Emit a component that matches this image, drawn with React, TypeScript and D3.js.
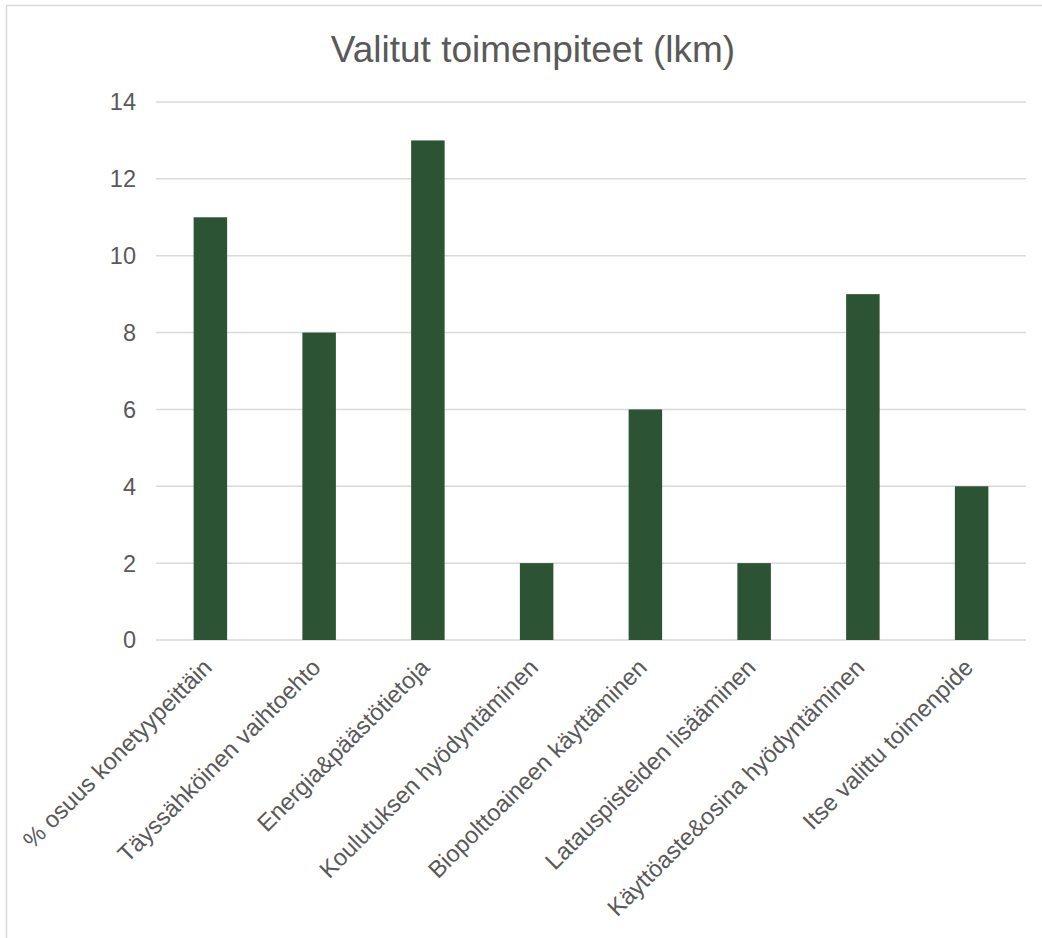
import { useEffect, useRef } from 'react'
import * as d3 from 'd3'

const CATEGORIES = [
  '% osuus konetyypeittäin',
  'Täyssähköinen vaihtoehto',
  'Energia&päästötietoja',
  'Koulutuksen hyödyntäminen',
  'Biopolttoaineen käyttäminen',
  'Latauspisteiden lisääminen',
  'Käyttöaste&osina hyödyntäminen',
  'Itse valittu toimenpide',
]
const VALUES = [11, 8, 13, 2, 6, 2, 9, 4]
const Y_TICKS = [0, 2, 4, 6, 8, 10, 12, 14]
const TITLE = 'Valitut toimenpiteet (lkm)'

export default function App() {
  const svgRef = useRef<SVGSVGElement>(null)

  useEffect(() => {
    if (!svgRef.current) return
    const W = 1042, H = 938
    const svg = d3.select(svgRef.current).attr('viewBox', `0 0 ${W} ${H}`)
    svg.selectAll('*').remove()

    const font = '"Liberation Sans", Arial, sans-serif'
    const textColor = '#595959'
    const gridColor = '#d9d9d9'
    const left = 156, right = 1026, top = 102, bottom = 640

    // chart border (cropped at right/bottom)
    svg.append('rect')
      .attr('x', 6.5).attr('y', 5.5).attr('width', W + 20).attr('height', H + 20)
      .attr('fill', 'white').attr('stroke', gridColor).attr('stroke-width', 1.5)

    const x = d3.scaleBand<string>().domain(CATEGORIES).range([left, right]).paddingInner(0.692).paddingOuter(0.346)
    const y = d3.scaleLinear().domain([0, 14]).range([bottom, top])

    // gridlines
    svg.append('g').selectAll('line').data(Y_TICKS).join('line')
      .attr('x1', left).attr('x2', right)
      .attr('y1', d => y(d)).attr('y2', d => y(d))
      .attr('stroke', gridColor).attr('stroke-width', 1.5)

    // y tick labels
    svg.append('g').selectAll('text').data(Y_TICKS).join('text')
      .attr('x', 136).attr('y', d => y(d)).attr('dy', '0.36em')
      .attr('text-anchor', 'end').attr('fill', textColor)
      .attr('font-family', font).attr('font-size', 23.5)
      .text(d => d)

    // bars
    svg.append('g').selectAll('rect').data(VALUES).join('rect')
      .attr('x', (_, i) => x(CATEGORIES[i])!)
      .attr('width', x.bandwidth())
      .attr('y', d => y(d))
      .attr('height', d => y(0) - y(d))
      .attr('fill', '#2d5335')

    // category labels, rotated
    svg.append('g').selectAll('text').data(CATEGORIES).join('text')
      .attr('transform', d => `translate(${x(d)! + x.bandwidth() / 2 + 3},669) rotate(-45)`)
      .attr('text-anchor', 'end').attr('fill', textColor)
      .attr('font-family', font).attr('font-size', 23.7)
      .text(d => d)

    // title
    svg.append('text')
      .attr('x', 533).attr('y', 62).attr('text-anchor', 'middle')
      .attr('fill', textColor).attr('font-family', font).attr('font-size', 37)
      .text(TITLE)
  }, [])

  return (
    <svg
      ref={svgRef}
      width={1042}
      height={938}
      style={{ position: 'absolute', left: 0, top: 0, display: 'block', background: 'white' }}
    />
  )
}
